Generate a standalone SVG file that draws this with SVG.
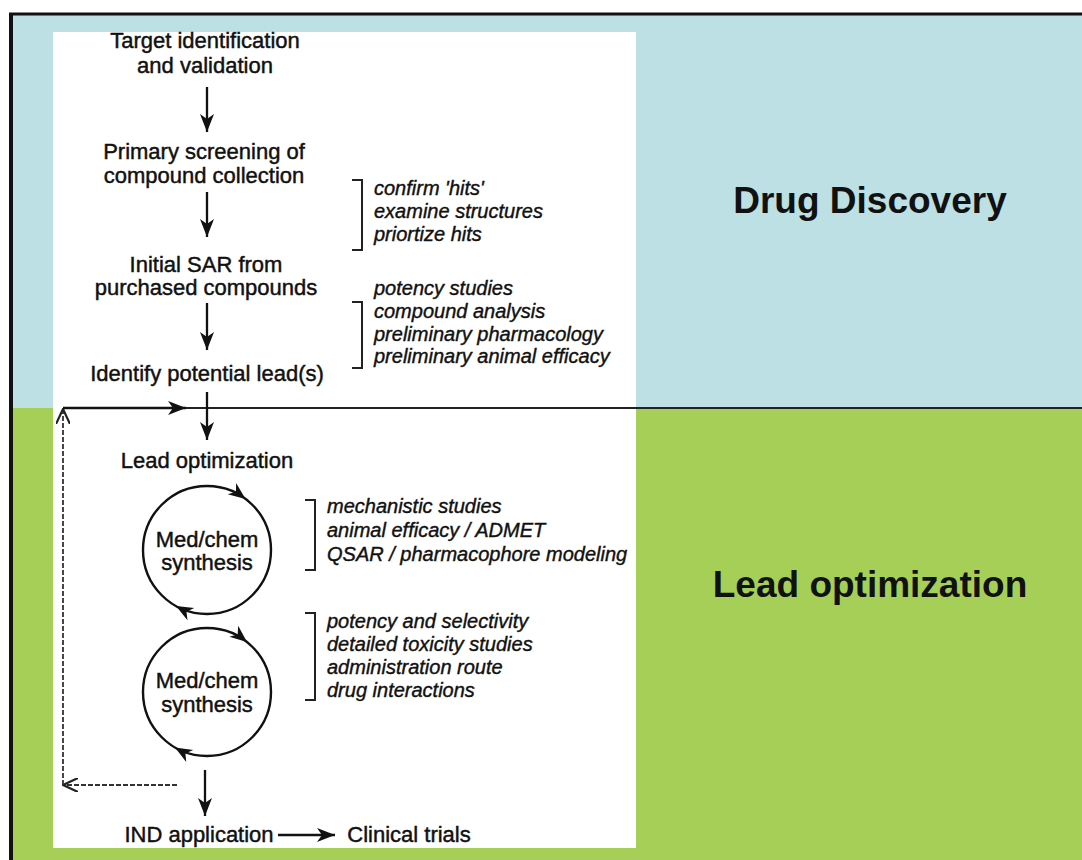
<svg xmlns="http://www.w3.org/2000/svg" xmlns:xlink="http://www.w3.org/1999/xlink" width="1082" height="860" viewBox="0 0 1082 860">
<style>
.t{font-family:"Liberation Sans",Arial,Helvetica,sans-serif;font-size:22px;fill:#111;stroke:#111;stroke-width:0.45;text-anchor:middle}
.i{font-family:"Liberation Sans",Arial,Helvetica,sans-serif;font-size:20px;font-style:italic;fill:#111;stroke:#111;stroke-width:0.4}
.big{font-family:"Liberation Sans",Arial,Helvetica,sans-serif;font-size:37px;font-weight:bold;fill:#111;text-anchor:middle}
.ln{stroke:#111;stroke-width:2.3;fill:none}
.dash{stroke:#333;stroke-width:1.8;fill:none;stroke-dasharray:5 2}
.br{stroke:#222;stroke-width:2;fill:none}
.circ{stroke:#111;stroke-width:2.4;fill:none}
</style>
<defs>
<marker id="arr" viewBox="0 0 18 14" refX="18" refY="7" markerWidth="18" markerHeight="14" markerUnits="userSpaceOnUse" orient="auto">
<path d="M0,0 L18,7 L0,14 L5,7 Z" fill="#111"/>
</marker>
<marker id="open" viewBox="0 0 16 14" refX="15" refY="7" markerWidth="16" markerHeight="14" markerUnits="userSpaceOnUse" orient="auto">
<path d="M0,0 L15,7 L0,14" fill="none" stroke="#222" stroke-width="2.2"/>
</marker>
<path id="ah" d="M0,0 L-17,-7 L-12,0 L-17,7 Z" fill="#111"/>
</defs>

<!-- background -->
<rect x="0" y="0" width="1082" height="860" fill="#ffffff"/>
<rect x="11" y="15" width="1071" height="393" fill="#bce0e3"/>
<rect x="11" y="408" width="1071" height="452" fill="#a6cf57"/>
<line x1="9" y1="14" x2="1082" y2="14" stroke="#111" stroke-width="3"/>
<line x1="11" y1="13" x2="11" y2="860" stroke="#111" stroke-width="4"/>
<rect x="53" y="32" width="583" height="816" fill="#ffffff"/>
<line x1="186" y1="408" x2="1082" y2="408" stroke="#222" stroke-width="1.8"/>

<g id="label-drug-discovery"><text class="big" x="870" y="213">Drug Discovery</text></g>
<g id="label-lead-optimization"><text class="big" x="870" y="597">Lead optimization</text></g>

<g id="node-target"><text class="t" x="205" y="48">Target identification</text><text class="t" x="205" y="73">and validation</text></g>
<g id="node-primary"><text class="t" x="204" y="159">Primary screening of</text><text class="t" x="204" y="183">compound collection</text></g>
<g id="node-sar"><text class="t" x="206" y="272">Initial SAR from</text><text class="t" x="206" y="295">purchased compounds</text></g>
<g id="node-identify"><text class="t" x="207" y="381">Identify potential lead(s)</text></g>
<g id="node-leadopt"><text class="t" x="207" y="468">Lead optimization</text></g>
<g id="node-medchem1">
<circle class="circ" cx="207" cy="550" r="64"/>
<use xlink:href="#ah" transform="translate(245.5,498.9) rotate(37)"/>
<use xlink:href="#ah" transform="translate(176,606) rotate(209)"/>
<text class="t" x="207" y="547">Med/chem</text><text class="t" x="207" y="570">synthesis</text>
</g>
<g id="node-medchem2">
<circle class="circ" cx="207" cy="692" r="64"/>
<use xlink:href="#ah" transform="translate(247,642) rotate(39)"/>
<use xlink:href="#ah" transform="translate(175,747.5) rotate(210)"/>
<text class="t" x="207" y="688">Med/chem</text><text class="t" x="207" y="712">synthesis</text>
</g>
<g id="node-ind"><text class="t" x="199" y="842">IND application</text></g>
<g id="node-clinical"><text class="t" x="409" y="842">Clinical trials</text></g>

<g id="note-1">
<path class="br" d="M352,180 H362 V250 H352"/>
<text class="i" x="374" y="195">confirm 'hits'</text>
<text class="i" x="374" y="218">examine structures</text>
<text class="i" x="374" y="241">priortize hits</text>
</g>
<g id="note-2">
<path class="br" d="M352,302 H362 V368 H352"/>
<text class="i" x="374" y="295">potency studies</text>
<text class="i" x="374" y="318">compound analysis</text>
<text class="i" x="374" y="341">preliminary pharmacology</text>
<text class="i" x="374" y="363">preliminary animal efficacy</text>
</g>
<g id="note-3">
<path class="br" d="M305,500 H315 V570 H305"/>
<text class="i" x="327" y="513">mechanistic studies</text>
<text class="i" x="327" y="537">animal efficacy / ADMET</text>
<text class="i" x="327" y="561">QSAR / pharmacophore modeling</text>
</g>
<g id="note-4">
<path class="br" d="M305,613 H315 V700 H305"/>
<text class="i" x="327" y="628">potency and selectivity</text>
<text class="i" x="327" y="651">detailed toxicity studies</text>
<text class="i" x="327" y="674">administration route</text>
<text class="i" x="327" y="697">drug interactions</text>
</g>

<g id="connectors">
<line class="ln" x1="207" y1="87" x2="207" y2="132" marker-end="url(#arr)"/>
<line class="ln" x1="207" y1="192" x2="207" y2="237" marker-end="url(#arr)"/>
<line class="ln" x1="207" y1="303" x2="207" y2="350" marker-end="url(#arr)"/>
<line class="ln" x1="207" y1="392" x2="207" y2="440" marker-end="url(#arr)"/>
<line class="ln" x1="205" y1="770" x2="205" y2="816" marker-end="url(#arr)"/>
<line class="ln" x1="278" y1="835" x2="335" y2="835" marker-end="url(#arr)"/>
<line class="dash" x1="177" y1="785" x2="63" y2="785" marker-end="url(#open)"/>
<line class="dash" x1="63" y1="785" x2="63" y2="409" marker-end="url(#open)"/>
<line class="ln" x1="63" y1="408" x2="186" y2="408" stroke-width="1.8" marker-end="url(#arr)"/>
</g>
</svg>
